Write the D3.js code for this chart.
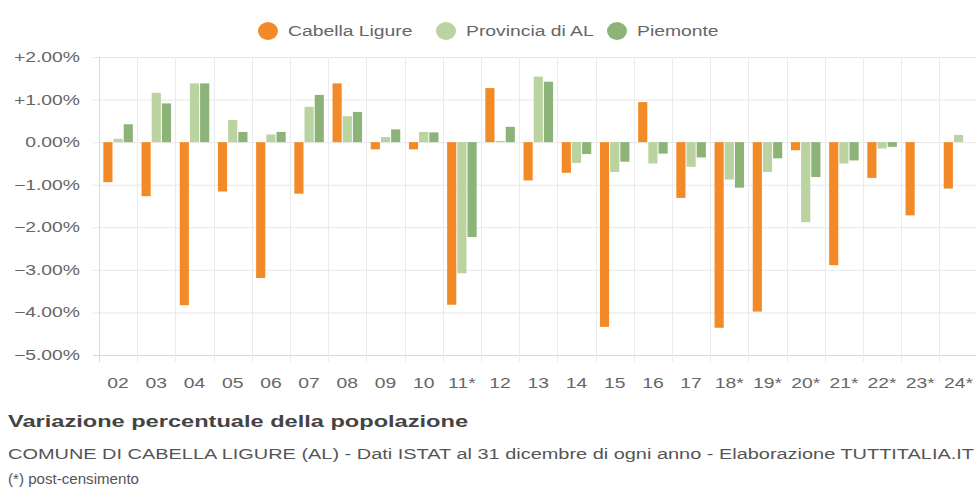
<!DOCTYPE html>
<html>
<head>
<meta charset="utf-8">
<script src="https://cdn.jsdelivr.net/npm/d3@7"></script>
<style>
  body { margin: 0; background: #fff; }
  svg { display: block; font-family: "Liberation Sans", Arial, sans-serif; }
</style>
</head>
<body>
<div id="chart"></div>
<script>
const years = ['02','03','04','05','06','07','08','09','10','11*','12','13','14','15','16','17','18*','19*','20*','21*','22*','23*','24*']
const cabella = [-0.94,-1.27,-3.83,-1.16,-3.19,-1.21,1.38,-0.17,-0.17,-3.82,1.27,-0.90,-0.72,-4.34,0.94,-1.31,-4.36,-3.98,-0.19,-2.89,-0.84,-1.72,-1.09]
const provincia = [0.08,1.16,1.38,0.52,0.18,0.83,0.61,0.12,0.24,-3.08,0.03,1.54,-0.49,-0.70,-0.50,-0.58,-0.88,-0.70,-1.88,-0.50,-0.15,0.00,0.17]
const piemonte = [0.42,0.91,1.38,0.24,0.24,1.11,0.71,0.30,0.23,-2.23,0.36,1.42,-0.28,-0.46,-0.27,-0.36,-1.07,-0.38,-0.82,-0.43,-0.11,0.00,0.00]
const seriesNames = ['Cabella Ligure', 'Provincia di AL', 'Piemonte']
const colors = ['#f28a28', '#bad3a0', '#8cb479']
const yTicks = [2, 1, 0, -1, -2, -3, -4, -5]

const width = 976, height = 489
const margin = { top: 57, right: 0, bottom: 134, left: 99 }
const sx = 1.38 // the picture's text is stretched sideways

let svg = d3.select('#chart').append('svg')
  .attr('width', width)
  .attr('height', height)

let x0 = d3.scaleBand()
  .domain(years)
  .range([margin.left, margin.left + 23 * 38.2])

let x1 = d3.scaleBand()
  .domain(seriesNames)
  .range([x0.bandwidth() * 0.1, x0.bandwidth() * 0.9])
  .paddingInner(0.1)
  .paddingOuter(0.05)

let y = d3.scaleLinear()
  .domain([-5, 2])
  .range([height - margin.bottom, margin.top])

// grid
let grid = svg.append('g')
grid.selectAll('line.h').data(yTicks).enter().append('line')
  .attr('x1', margin.left - 6)
  .attr('x2', width)
  .attr('y1', d => y(d) + 0.5)
  .attr('y2', d => y(d) + 0.5)
  .attr('stroke', d => d === -5 ? '#d8d8d8' : '#e8e8e8')
  .attr('stroke-width', 1)

let bounds = years.map(d => x0(d)).concat([x0.range()[1]])
grid.selectAll('line.v').data(bounds).enter().append('line')
  .attr('x1', d => Math.round(d) + 0.5)
  .attr('x2', d => Math.round(d) + 0.5)
  .attr('y1', margin.top)
  .attr('y2', y(-5) + 7)
  .attr('stroke', (d, i) => i === 0 ? '#d8d8d8' : '#ebebeb')

// bars
let rows = years.map((yr, i) => ({ yr, vals: [cabella[i], provincia[i], piemonte[i]] }))
let group = svg.append('g').selectAll('g').data(rows).enter().append('g')
  .attr('transform', d => `translate(${x0(d.yr)},0)`)
group.selectAll('rect')
  .data(d => d.vals.map((v, k) => ({ v, k })))
  .enter().append('rect')
  .attr('x', d => x1(seriesNames[d.k]))
  .attr('width', x1.bandwidth())
  .attr('y', d => Math.min(y(d.v), y(0)))
  .attr('height', d => Math.abs(y(d.v) - y(0)))
  .attr('fill', d => colors[d.k])

// y labels
let fmt = v => (v > 0 ? '+' : '') + d3.format('.2f')(v) + '%'
svg.append('g').selectAll('text').data(yTicks).enter().append('text')
  .attr('transform', d => `translate(80,${y(d) + 5}) scale(${sx},1)`)
  .attr('text-anchor', 'end')
  .attr('font-size', 14)
  .attr('fill', '#666')
  .text(fmt)

// x labels
svg.append('g').selectAll('text').data(years).enter().append('text')
  .attr('transform', d => `translate(${x0(d) + x0.bandwidth() / 2},388) scale(${sx},1)`)
  .attr('text-anchor', 'middle')
  .attr('font-size', 14)
  .attr('fill', '#666')
  .text(d => d)

// legend
let legendX = [268, 446, 617]
let legend = svg.append('g').selectAll('g').data(seriesNames).enter().append('g')
  .attr('transform', (d, i) => `translate(${legendX[i]},31)`)
legend.append('ellipse')
  .attr('rx', 10).attr('ry', 9)
  .attr('fill', (d, i) => colors[i])
legend.append('text')
  .attr('transform', `translate(20,5) scale(${sx},1)`)
  .attr('font-size', 14)
  .attr('fill', '#666')
  .text(d => d)

// titles
svg.append('text')
  .attr('x', 8).attr('y', 427)
  .attr('font-size', 17)
  .attr('font-weight', 'bold')
  .attr('fill', '#444')
  .attr('textLength', 460)
  .attr('lengthAdjust', 'spacingAndGlyphs')
  .text('Variazione percentuale della popolazione')

svg.append('text')
  .attr('x', 8).attr('y', 459)
  .attr('font-size', 14)
  .attr('fill', '#555')
  .attr('textLength', 966)
  .attr('lengthAdjust', 'spacingAndGlyphs')
  .text('COMUNE DI CABELLA LIGURE (AL) - Dati ISTAT al 31 dicembre di ogni anno - Elaborazione TUTTITALIA.IT')

svg.append('text')
  .attr('x', 8).attr('y', 484)
  .attr('font-size', 14)
  .attr('fill', '#555')
  .attr('textLength', 131)
  .attr('lengthAdjust', 'spacingAndGlyphs')
  .text('(*) post-censimento')
</script>
</body>
</html>
